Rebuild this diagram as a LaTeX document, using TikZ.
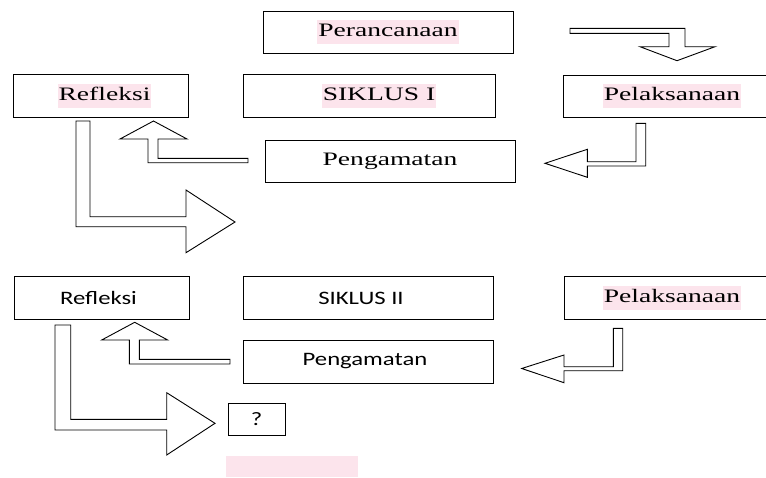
\documentclass[tikz,border=0pt]{standalone}
\usepackage{fontspec}
\usepackage{tikz}
\newfontfamily\serifwide[FakeStretch=1.45]{Liberation Serif}
\newfontfamily\sanswide[FakeStretch=1.3]{Carlito}
\definecolor{hlpink}{RGB}{252,228,236}
\newcommand{\hilite}[1]{{\setlength{\fboxsep}{1pt}\colorbox{hlpink}{\strut #1}}}

\begin{document}
\begin{tikzpicture}[x=1pt, y=-1pt,
    kotak/.style={draw, line width=1pt, inner sep=0pt},
    serifteks/.style={font=\serifwide\fontsize{19}{22}\selectfont},
    sansteks/.style={font=\sanswide\fontsize{19}{22}\selectfont},
    blok/.style={draw, fill=white, line width=0.9pt, line join=miter}]
    \clip (0,0) rectangle (766,477);

    % Siklus I
    \node[kotak, serifteks, minimum width=250pt, minimum height=42pt] (perancanaan) at (388,32) {\hilite{Perancanaan}};
    \node[kotak, serifteks, minimum width=175pt, minimum height=43pt] (refleksiA) at (101,96) {\hspace*{7pt}\hilite{Refleksi}};
    \node[kotak, serifteks, minimum width=252pt, minimum height=43pt] (siklusA) at (369,96) {\hspace*{20pt}\hilite{SIKLUS I}};
    \node[kotak, serifteks, minimum width=217pt, minimum height=42pt] (pelaksanaanA) at (672,96) {\hilite{Pelaksanaan}};
    \node[kotak, serifteks, minimum width=250pt, minimum height=42pt] (pengamatanA) at (390,161) {Pengamatan};

    % Siklus II
    \node[kotak, sansteks, minimum width=175pt, minimum height=43pt] (refleksiB) at (101.5,298) {Refleksi\hspace*{6pt}};
    \node[kotak, sansteks, minimum width=250pt, minimum height=43pt] (siklusB) at (368,298) {SIKLUS II\hspace*{14pt}};
    \node[kotak, serifteks, minimum width=216pt, minimum height=43pt] (pelaksanaanB) at (672,298) {\hilite{Pelaksanaan}};
    \node[kotak, sansteks, minimum width=250pt, minimum height=43pt] (pengamatanB) at (368,361.5) {Pengamatan\hspace*{6pt}};
    \node[kotak, sansteks, minimum width=57pt, minimum height=32pt] (tanya) at (256.5,419) {?};

    % empty highlight at the bottom
    \fill[hlpink] (226,456) rectangle (358,477);

    % Perancanaan -> Pelaksanaan
    \draw[blok] (570,28.3) -- (685,28.3) -- (685,46.7) -- (715,46.7) -- (677,60.7)
        -- (640,46.7) -- (669,46.7) -- (669,33.3) -- (570,33.3) -- cycle;
    % Pelaksanaan -> Pengamatan (siklus I)
    \draw[blok] (636,123.3) -- (645.7,123.3) -- (645.7,166) -- (587.3,166) -- (587.3,177.3)
        -- (545,163.3) -- (587.3,149.3) -- (587.3,161.7) -- (636,161.7) -- cycle;
    % Pengamatan -> Refleksi (siklus I)
    \draw[blok] (248,158.3) -- (158,158.3) -- (158,139) -- (187,139) -- (153.5,121)
        -- (120,139) -- (148,139) -- (148,162.7) -- (248,162.7) -- cycle;
    % Refleksi -> siklus II
    \draw[blok] (76,121) -- (90,121) -- (90,216.7) -- (186,216.7) -- (186,190)
        -- (235,222) -- (186,252.7) -- (186,226.7) -- (76,226.7) -- cycle;

    % Pelaksanaan -> Pengamatan (siklus II)
    \draw[blok] (613.3,328.3) -- (622.7,328.3) -- (622.7,370.7) -- (564,370.7) -- (564,382.7)
        -- (521.7,368.5) -- (564,355) -- (564,366.7) -- (613.3,366.7) -- cycle;
    % Pengamatan -> Refleksi (siklus II)
    \draw[blok] (230,359.3) -- (139.3,359.3) -- (139.3,340) -- (167.7,340) -- (134.7,322.3)
        -- (101.7,340) -- (129.3,340) -- (129.3,364) -- (230,364) -- cycle;
    % Refleksi -> ?
    \draw[blok] (55,325) -- (70.7,325) -- (70.7,419.3) -- (166.7,419.3) -- (166.7,392.7)
        -- (215,423.3) -- (166.7,455) -- (166.7,430) -- (55,430) -- cycle;

\end{tikzpicture}
\end{document}
